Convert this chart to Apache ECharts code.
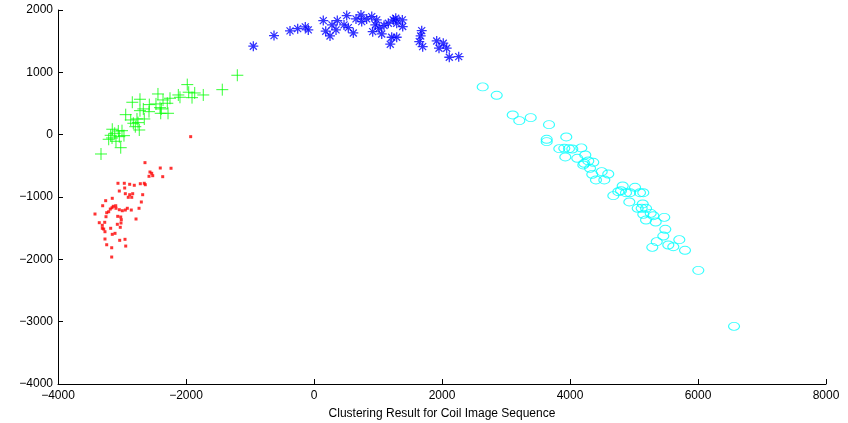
<!DOCTYPE html>
<html><head><meta charset="utf-8">
<script src="https://cdn.jsdelivr.net/npm/echarts@6/dist/echarts.min.js"></script>
<style>html,body{margin:0;padding:0;background:#fff}#c{width:848px;height:423px}</style>
</head><body><div id="c"></div>
<script>
const xTicks = [-4000, -2000, 0, 2000, 4000, 6000, 8000];
const yTicks = [-4000, -3000, -2000, -1000, 0, 1000, 2000];
const xTitle = 'Clustering Result for Coil Image Sequence';

const redPts = [
[-1927,-32],[-2641,-449],[-2402,-535],[-2234,-539],[-2563,-599],[-2536,-620],[-2520,-658],[-2578,-668],[-2364,-674],
[-3063,-780],[-2964,-780],[-2880,-796],[-2808,-812],[-2714,-787],[-2652,-780],[-2636,-803],[-2958,-856],[-3042,-904],
[-2948,-947],[-2880,-963],[-2833,-947],[-2677,-963],[-2902,-1005],[-2848,-1005],[-3152,-1021],[-3255,-1059],[-2698,-1080],
[-3302,-1140],[-3136,-1149],[-3098,-1140],[-3156,-1172],[-3094,-1181],[-3183,-1193],[-3042,-1204],[-2995,-1220],[-2948,-1209],
[-2917,-1181],[-2855,-1209],[-2734,-1181],[-3208,-1236],[-3239,-1252],[-3422,-1273],[-3250,-1316],[-3067,-1310],[-3020,-1321],
[-3011,-1364],[-2781,-1353],[-3355,-1412],[-3270,-1406],[-3016,-1417],[-3308,-1454],[-3073,-1438],[-3027,-1486],[-3308,-1502],
[-3286,-1514],[-3177,-1502],[-3266,-1557],[-3109,-1583],[-3152,-1599],[-3266,-1674],[-3036,-1695],[-2953,-1679],[-3239,-1766],
[-2942,-1787],[-3161,-1814],[-3161,-1963]
];
const greenPts = [
[-1198,953],[-1980,803],[-1433,722],[-1958,681],[-1864,669],[-1730,637],[-2120,637],[-2438,653],[-2094,600],[-2250,584],
[-1906,594],[-2719,568],[-2839,520],[-2359,557],[-2292,504],[-2469,493],[-2573,482],[-2406,433],[-2667,413],[-2386,413],
[-2578,369],[-2719,385],[-2281,343],[-2395,343],[-2942,321],[-2652,252],[-2766,252],[-2864,236],[-2823,183],[-2750,193],
[-2792,128],[-2730,75],[-3152,87],[-3058,59],[-3000,64],[-3114,22],[-3177,-10],[-2969,-16],[-3042,-32],[-3208,-74],
[-3156,-53],[-3094,-106],[-3020,-209],[-3328,-310]
];
const bluePts = [
[-948,1419],[-625,1589],[-375,1665],[-255,1701],[-136,1729],[-89,1681],[145,1830],[183,1660],[250,1584],[344,1681],
[281,1761],[364,1830],[511,1910],[469,1761],[536,1717],[614,1632],[656,1857],[734,1921],[745,1814],[823,1857],
[902,1894],[917,1653],[958,1761],[1016,1708],[1058,1616],[1094,1750],[1161,1788],[1239,1841],[1277,1868],[1214,1563],
[1292,1563],[1192,1451],[1380,1841],[1386,1734],[1683,1669],[1667,1584],[1645,1493],[1698,1412],[1917,1504],[2020,1467],
[1953,1387],[2073,1387],[2114,1242],[2261,1252],[1292,1788],[980,1841]
];
const cyanPts = [
[2636,766],[2855,632],[3105,316],[3208,225],[3386,273],[3672,161],[3942,-37],[3636,-74],[3636,-112],[3833,-225],
[3911,-218],[3984,-225],[4036,-230],[4177,-213],[4239,-326],[3927,-358],[4114,-379],[4223,-459],[4286,-422],[4208,-486],
[4364,-443],[4313,-539],[4348,-636],[4406,-727],[4536,-727],[4598,-631],[4495,-594],[4677,-979],[4755,-915],[4823,-823],
[4797,-899],[4875,-931],[4938,-931],[5016,-844],[5094,-931],[5145,-931],[4927,-1080],[5136,-1112],[5120,-1181],[5058,-1181],
[5188,-1181],[5145,-1278],[5261,-1262],[5302,-1300],[5473,-1326],[5188,-1369],[5339,-1401],[5489,-1518],[5458,-1626],
[5355,-1717],[5286,-1807],[5536,-1770],[5614,-1798],[5708,-1685],[5797,-1855],[6005,-2177],[6563,-3075]
];

const chart = echarts.init(document.getElementById('c'), null, {renderer:'canvas'});
const font = 'Liberation Sans, Arial, Helvetica, sans-serif';
const fmt = v => (v < 0 ? '\u2212' + Math.abs(v) : String(v));
const axisCommon = {
  axisLine:{show:true, onZero:false, lineStyle:{color:'#000', width:1}},
  axisTick:{show:true, inside:true, length:5, lineStyle:{color:'#000'}},
  splitLine:{show:false},
  axisLabel:{color:'#000', fontSize:12, fontFamily:font, formatter:fmt, margin:5}
};
chart.setOption({
  animation:false,
  backgroundColor:'#fff',
  grid:{left:58, right:22, top:10, bottom:39, containLabel:false, outerBoundsMode:'none'},
  xAxis:Object.assign({type:'value', min:xTicks[0], max:xTicks[xTicks.length-1], interval:2000,
    name:xTitle, nameLocation:'middle', nameGap:24,
    nameTextStyle:{color:'#000', fontSize:12, fontFamily:font}}, axisCommon,
    {axisLabel:Object.assign({}, axisCommon.axisLabel, {margin:6})}),
  yAxis:Object.assign({type:'value', min:yTicks[0], max:yTicks[yTicks.length-1], interval:1000}, axisCommon),
  series:[
    {type:'scatter', data:redPts, symbol:'rect', symbolSize:3, itemStyle:{color:'#ff0000'}},
    {type:'scatter', data:greenPts, symbol:'path://M0,5L10,5M5,0L5,10', symbolSize:12,
      itemStyle:{color:'none', borderColor:'#00ff00', borderWidth:1}},
    {type:'scatter', data:bluePts, symbol:'path://M5,0L5,10M0,5L10,5M1.5,1.5L8.5,8.5M1.5,8.5L8.5,1.5', symbolSize:10,
      itemStyle:{color:'none', borderColor:'#0000ff', borderWidth:1.3}},
    {type:'scatter', data:cyanPts, symbol:'circle', symbolSize:[11,8],
      itemStyle:{color:'none', borderColor:'#00ffff', borderWidth:1}}
  ]
});
</script></body></html>
